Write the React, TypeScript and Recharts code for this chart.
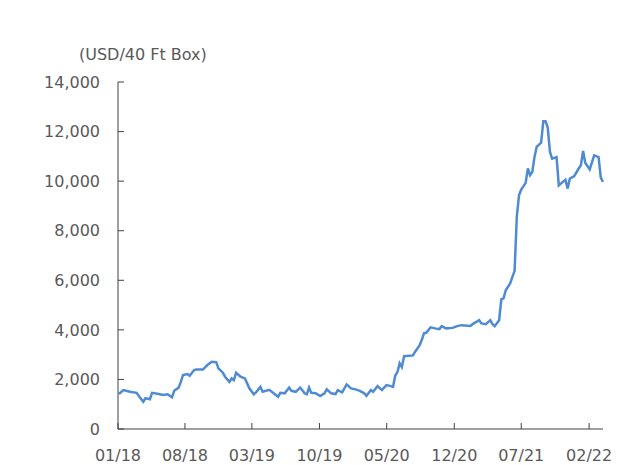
import React from 'react';
import { LineChart, Line, XAxis, YAxis } from 'recharts';

// weekly freight rate, weeks counted from the first reading (Thu 04 Jan 2018)
const firstWeek = '2018-01-04';
const weekNo = [
  0, 2, 5, 8, 9, 11, 12, 14, 15, 18, 20, 22, 24, 25, 27, 28, 29, 31, 32, 34,
  35, 38, 40, 42, 44, 45, 47, 48, 50, 51, 52, 53, 55, 57, 59, 61, 62, 64, 65, 68,
  70, 72, 73, 75, 77, 78, 80, 82, 84, 85, 86, 87, 89, 91, 93, 94, 96, 98, 99, 101,
  103, 105, 107, 109, 111, 112, 114, 115, 117, 119, 121, 123, 124, 125, 126, 127, 128, 129, 133, 134,
  136, 137, 138, 139, 141, 143, 145, 146, 148, 151, 153, 155, 159, 160, 163, 164, 166, 168, 169, 170,
  172, 173, 174, 175, 177, 178, 179, 180, 181, 182, 184, 185, 186, 187, 188, 189, 191, 192, 193, 194,
  195, 196, 198, 199, 202, 203, 204, 206, 208, 209, 210, 211, 213, 215, 217, 218, 219,
];
const rate = [
  1410, 1570, 1500, 1460, 1330, 1100, 1240, 1200, 1460, 1410, 1370, 1400, 1280, 1540, 1670, 1900, 2180, 2220, 2150, 2380,
  2400, 2400, 2580, 2710, 2700, 2450, 2270, 2110, 1900, 2040, 1970, 2270, 2110, 2040, 1640, 1400, 1480, 1700, 1500, 1580,
  1440, 1300, 1460, 1440, 1670, 1540, 1500, 1670, 1440, 1400, 1670, 1460, 1440, 1330, 1440, 1600, 1440, 1410, 1570, 1480,
  1800, 1640, 1600, 1540, 1440, 1340, 1570, 1500, 1730, 1570, 1770, 1730, 1700, 2150, 2300, 2650, 2500, 2940, 2970, 3120,
  3370, 3590, 3860, 3880, 4100, 4060, 4030, 4150, 4060, 4080, 4150, 4190, 4160, 4230, 4390, 4260, 4230, 4390, 4230, 4150,
  4390, 5230, 5270, 5600, 5870, 6140, 6380, 8560, 9430, 9660, 9930, 10510, 10240, 10370, 10970, 11380, 11550, 12420, 12420, 12160,
  11180, 10910, 10970, 9830, 10060, 9700, 10100, 10200, 10510, 10640, 11220, 10730, 10470, 11040, 10970, 10140, 9970,
];
const tickLabels = ['01/18', '08/18', '03/19', '10/19', '05/20', '12/20', '07/21', '02/22'];
const yTicks = [0, 2000, 4000, 6000, 8000, 10000, 12000, 14000];

const DAY = 24 * 3600 * 1000;
const start = Date.parse(firstWeek + 'T00:00:00Z');
const data = weekNo.map((w, i) => ({ t: start + w * 7 * DAY, rate: rate[i] }));

// tick label 'MM/YY' -> first day of that month
const xTicks = tickLabels.map((l) => {
  const [m, y] = l.split('/');
  return Date.UTC(2000 + Number(y), Number(m) - 1, 1);
});

const textColor = '#595959';
const tickStyle = { fontSize: 16, fill: textColor, fontFamily: 'DejaVu Sans' };

const App: React.FC = () => {
  return (
    <div style={{ position: 'absolute', left: 0, top: 0, width: 634, height: 465, background: '#fff' }}>
      <div
        style={{
          position: 'absolute',
          left: 79,
          top: 47,
          fontFamily: 'DejaVu Sans',
          fontSize: 16,
          lineHeight: '16px',
          color: textColor,
          whiteSpace: 'nowrap',
        }}
      >
        (USD/40 Ft Box)
      </div>
      <LineChart width={634} height={465} data={data} margin={{ top: 82, right: 31, left: 0, bottom: 0 }}>
        <XAxis
          dataKey="t"
          type="number"
          scale="time"
          domain={[xTicks[0], data[data.length - 1].t]}
          ticks={xTicks}
          tickFormatter={(v) => tickLabels[xTicks.indexOf(v)] ?? ''}
          interval={0}
          height={36}
          tick={tickStyle}
          tickSize={-6}
          tickMargin={27}
          axisLine={{ stroke: '#404040', strokeWidth: 1 }}
          tickLine={{ stroke: '#404040' }}
        />
        <YAxis
          type="number"
          domain={[0, 14000]}
          ticks={yTicks}
          interval={0}
          width={118}
          tick={tickStyle}
          tickFormatter={(v) => Number(v).toLocaleString('en-US')}
          tickSize={-6}
          tickMargin={24}
          axisLine={{ stroke: '#404040', strokeWidth: 1 }}
          tickLine={{ stroke: '#404040' }}
        />
        <Line
          dataKey="rate"
          type="linear"
          stroke="#4f8bd0"
          strokeWidth={2.5}
          dot={false}
          isAnimationActive={false}
        />
      </LineChart>
    </div>
  );
};

export default App;
